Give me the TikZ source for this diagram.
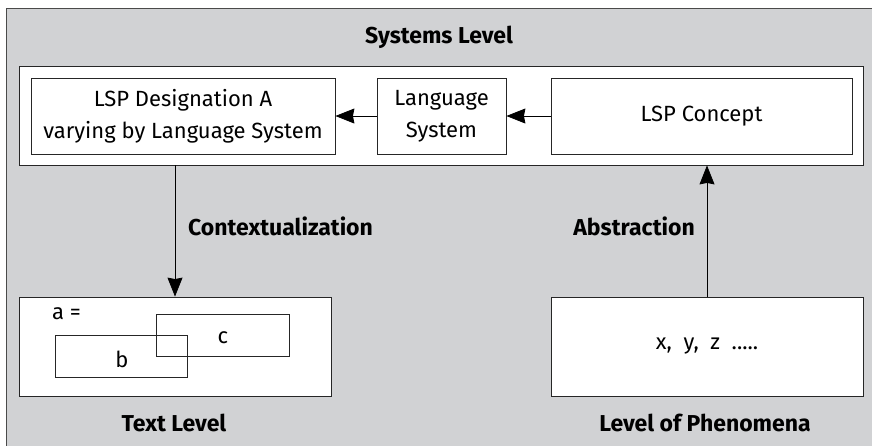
\documentclass[tikz,border=0pt]{standalone}
\usepackage{fontspec}
\setmainfont{Fira Sans}
\usetikzlibrary{arrows.meta}
\definecolor{panelgray}{HTML}{D1D2D4}
\definecolor{edgegray}{HTML}{4A4A4A}
\tikzset{
  box/.style={draw=black!85, line width=0.8pt, fill=white, rectangle, inner sep=0pt, align=center, font=\fontsize{22}{32}\selectfont},
  plain/.style={draw=black!85, line width=0.8pt, rectangle, inner sep=0pt},
  lbl/.style={font=\fontsize{23}{28}\selectfont\bfseries, inner sep=0pt},
  txt/.style={font=\fontsize{22}{28}\selectfont, inner sep=0pt},
  arr/.style={draw=black, line width=0.8pt, -{Stealth[length=19pt,width=15pt,inset=1.5pt]}}
}
\begin{document}
\begin{tikzpicture}[x=1pt,y=-1pt]
\clip (0,0) rectangle (872,445);
\fill[white] (0,0) rectangle (872,445);
\draw[fill=panelgray, draw=edgegray, line width=1pt] (6,8) rectangle (890,460);
\node[lbl] (systitle) at (439,37) {Systems Level};
\node[box, minimum width=844pt, minimum height=99pt] (sys) at (441,115.5) {};
\node[box, minimum width=304pt, minimum height=76pt] (desig) at (183,116) {LSP Designation A\\varying by Language System};
\node[box, minimum width=129pt, minimum height=76pt] (langsys) at (441.5,116) {Language\\System};
\node[box, minimum width=301pt, minimum height=76pt] (concept) at (701.5,116) {LSP Concept};
\draw[arr] (concept.west) -- (langsys.east);
\draw[arr] (langsys.west) -- (desig.east);
\node[box, minimum width=312pt, minimum height=99pt] (textlvl) at (175,346.5) {};
\node[box, minimum width=312pt, minimum height=99pt] (phen) at (707,346.5) {x,\ \ y,\ \ z\ \ .....};
\node[plain, minimum width=132pt, minimum height=42pt] (bbox) at (121,356) {};
\node[plain, minimum width=133pt, minimum height=42pt] (cbox) at (222.5,335) {};
\node[txt] (bl) at (122,359) {b};
\node[txt] (cl) at (223,338) {c};
\node[txt, anchor=west] (al) at (52,314) {a =};
\draw[arr] (sys.south -| textlvl.north) -- (textlvl.north);
\draw[arr] (phen.north) -- (phen.north |- sys.south);
\node[lbl, anchor=west] (ctx) at (188,226) {Contextualization};
\node[lbl, anchor=east] (abs) at (695,226) {Abstraction};
\node[lbl] (tl) at (174,423) {Text Level};
\node[lbl] (pl) at (705,423) {Level of Phenomena};
\end{tikzpicture}
\end{document}
